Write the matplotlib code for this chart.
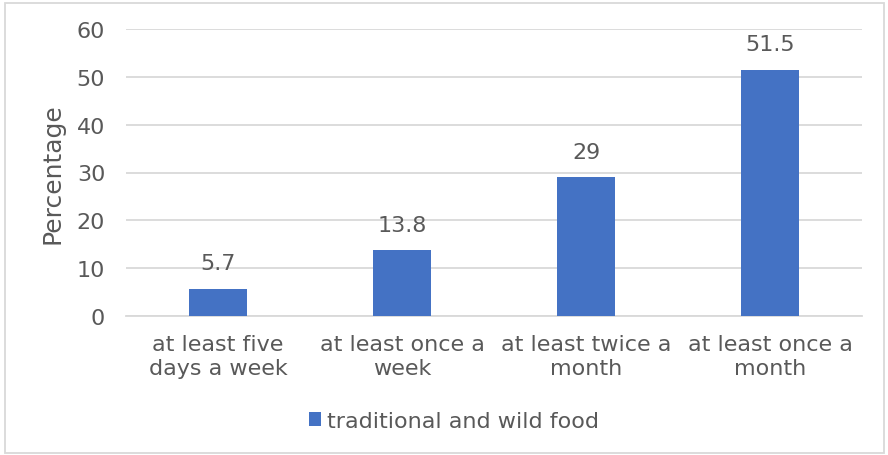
import matplotlib.pyplot as plt
from matplotlib.patches import Rectangle

# data
categories = ['at least five\ndays a week', 'at least once a\nweek',
              'at least twice a\nmonth', 'at least once a\nmonth']
values = [5.7, 13.8, 29, 51.5]
value_labels = ['5.7', '13.8', '29', '51.5']
series_name = 'traditional and wild food'

bar_color = '#4472C4'
text_color = '#595959'
grid_color = '#D9D9D9'
fs = 16

plt.rcParams['font.family'] = ['DejaVu Sans']

fig = plt.figure(figsize=(8.88, 4.56), dpi=100)
ax = fig.add_axes([126 / 888, 1 - 317 / 456, 736 / 888, 287 / 456])

x = range(len(categories))
bars = ax.bar(x, values, width=0.315, color=bar_color, label=series_name, zorder=3)

for xi, v, lab in zip(x, values, value_labels):
    ax.annotate(lab, (xi, v), xytext=(0, 11), textcoords='offset points',
                ha='center', va='bottom', fontsize=fs, color=text_color)

ax.set_xlim(-0.5, 3.5)
ax.set_ylim(0, 60)
ax.set_yticks(range(0, 61, 10))
ax.set_xticks(list(x))
ax.set_xticklabels(categories, linespacing=1.27)
ax.tick_params(axis='both', length=0, labelsize=fs, labelcolor=text_color)
ax.tick_params(axis='y', pad=15)
ax.tick_params(axis='x', pad=13)
ax.grid(axis='y', color=grid_color, linewidth=1.3, zorder=0)
for s in ['top', 'right', 'left']:
    ax.spines[s].set_visible(False)
ax.spines['bottom'].set_color(grid_color)
ax.spines['bottom'].set_linewidth(1.3)

ax.set_ylabel('Percentage', fontsize=18, color=text_color)
ax.yaxis.set_label_coords(-0.083, 0.50)

fig.legend(handles=[bars], labels=[series_name], loc='center',
           bbox_to_anchor=(454 / 888, 1 - 422 / 456), frameon=False,
           fontsize=fs, labelcolor=text_color, handlelength=0.55,
           handleheight=0.55, handletextpad=0.25)

# outer chart border
fig.patches.append(Rectangle((5 / 888, 2 / 456), 879 / 888, 450 / 456,
                             transform=fig.transFigure, fill=False,
                             edgecolor=grid_color, linewidth=1.3))

fig.savefig('out.png', dpi=100)
